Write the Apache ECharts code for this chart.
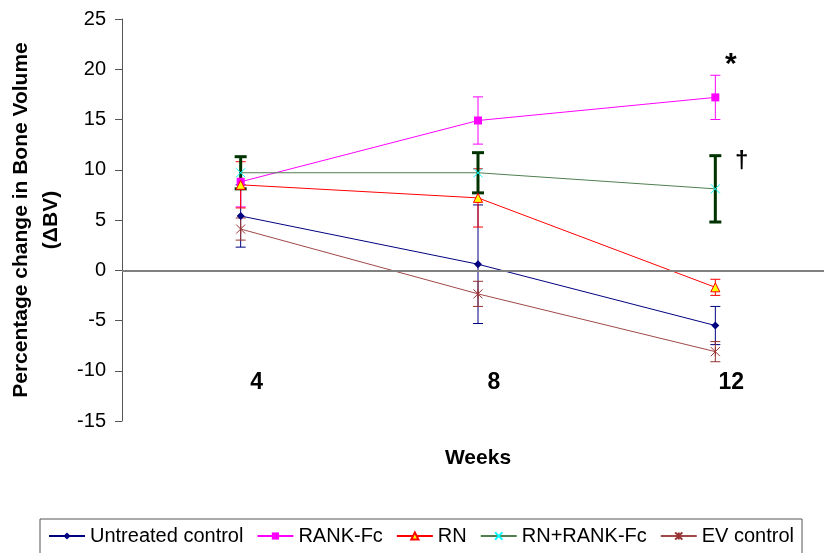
<!DOCTYPE html>
<html>
<head>
<meta charset="utf-8">
<script src="https://cdn.jsdelivr.net/npm/echarts@6/dist/echarts.min.js"></script>
<style>
  html, body { margin: 0; padding: 0; background: #fff; }
  #chart { width: 824px; height: 553px; }
</style>
</head>
<body>
<div id="chart"></div>
<script>
var weeks = ['4', '8', '12'];
var yTicks = { min: -15, max: 25, step: 5 };

var untreated    = [5.4, 0.6, -5.5];
var untreatedErr = [3.1, 5.9, 1.9];
var rankFc       = [8.8, 14.9, 17.2];
var rankFcErr    = [2.5, 2.35, 2.2];
var rn           = [8.5, 7.2, -1.7];
var rnErr        = [2.3, 2.9, 0.8];
var rnRankFc     = [9.7, 9.7, 8.1];
var rnRankFcErr  = [1.6, 2.0, 3.3];
var evControl    = [4.1, -2.35, -8.1];
var evControlErr = [1.1, 1.25, 1.0];

var FONT = "'Liberation Sans', Arial, sans-serif";

var dom = document.getElementById('chart');
var chart = echarts.init(dom);

// error bars: vertical line with caps
function errBars(name, means, errs, color, width, cap) {
    var data = means.map(function (m, i) { return [i, m - errs[i], m + errs[i]]; });
    return {
        name: name,
        type: 'custom',
        silent: true,
        z: 2,
        data: data,
        renderItem: function (params, api) {
            var i = api.value(0);
            var lo = api.coord([i, api.value(1)]);
            var hi = api.coord([i, api.value(2)]);
            var st = { stroke: color, lineWidth: width, fill: null };
            return {
                type: 'group',
                children: [
                    { type: 'line', shape: { x1: lo[0], y1: lo[1], x2: hi[0], y2: hi[1] }, style: st },
                    { type: 'line', shape: { x1: lo[0] - cap, y1: lo[1], x2: lo[0] + cap, y2: lo[1] }, style: st },
                    { type: 'line', shape: { x1: hi[0] - cap, y1: hi[1], x2: hi[0] + cap, y2: hi[1] }, style: st }
                ]
            };
        }
    };
}

function lineSeries(name, values, lineColor, symbol, size, itemStyle) {
    return {
        name: name,
        type: 'line',
        data: values,
        z: 3,
        symbol: symbol,
        symbolSize: size,
        showAllSymbol: true,
        lineStyle: { color: lineColor, width: 1 },
        itemStyle: itemStyle
    };
}

var xMark = 'path://M0,0L10,10M10,0L0,10';
var starMark = 'path://M0,0L10,10M10,0L0,10M5,0L5,10';

var series = [
    errBars('errUntreated', untreated, untreatedErr, '#000080', 1, 5),
    errBars('errRank', rankFc, rankFcErr, '#ff00ff', 1, 5),
    errBars('errRn', rn, rnErr, '#ff0000', 1, 5),
    errBars('errEv', evControl, evControlErr, '#993333', 1, 5),
    errBars('errRnRank', rnRankFc, rnRankFcErr, '#003300', 3, 6),
    lineSeries('Untreated control', untreated, '#000080', 'diamond', 8,
        { color: '#000080' }),
    lineSeries('RANK-Fc', rankFc, '#ff00ff', 'rect', 8,
        { color: '#ff00ff' }),
    lineSeries('RN', rn, '#ff0000', 'triangle', 9,
        { color: '#ffff00', borderColor: '#ff0000', borderWidth: 1 }),
    lineSeries('RN+RANK-Fc', rnRankFc, '#4f7f4f', xMark, 9,
        { color: '#00ffff', borderColor: '#00ffff', borderWidth: 1 }),
    lineSeries('EV control', evControl, '#a04848', starMark, 9,
        { color: '#993333', borderColor: '#993333', borderWidth: 1 })
];

// zero line across the plot
series[0].markLine = {
    silent: true,
    symbol: 'none',
    label: { show: false },
    lineStyle: { color: '#808080', width: 2, type: 'solid' },
    data: [{ yAxis: 0 }]
};

var option = {
    animation: false,
    textStyle: { fontFamily: FONT },
    grid: { left: 122, top: 19, bottom: 132, right: -10, containLabel: false, outerBoundsMode: 'none' },
    legend: {
        data: ['Untreated control', 'RANK-Fc', 'RN', 'RN+RANK-Fc', 'EV control'],
        left: 40,
        top: 519,
        padding: [7, 8, 20, 8],
        borderColor: '#555',
        borderWidth: 1,
        itemWidth: 36,
        itemHeight: 9,
        itemGap: 13,
        textStyle: { fontSize: 20, color: '#000', fontFamily: FONT }
    },
    xAxis: {
        type: 'category',
        data: weeks,
        boundaryGap: true,
        offset: -50,
        axisLine: { show: false, onZero: false },
        axisTick: { show: false },
        axisLabel: { margin: 0, fontSize: 23, fontWeight: 'bold', color: '#000', padding: [0, 0, 0, 32] },
        name: 'Weeks',
        nameLocation: 'middle',
        nameGap: 77,
        nameTextStyle: { fontSize: 21, fontWeight: 'bold', color: '#000' }
    },
    yAxis: {
        type: 'value',
        min: yTicks.min,
        max: yTicks.max,
        interval: yTicks.step,
        splitLine: { show: false },
        axisLine: { show: true, lineStyle: { color: '#555', width: 1 } },
        axisTick: { show: true, length: 7, lineStyle: { color: '#555' } },
        axisLabel: { margin: 16, fontSize: 20, color: '#000' },
        name: 'Percentage change in Bone Volume\n(ΔBV)',
        nameLocation: 'middle',
        nameGap: 52,
        nameTextStyle: { fontSize: 21, fontWeight: 'bold', color: '#000', lineHeight: 30, align: 'center' }
    },
    graphic: [
        { type: 'text', left: 725, top: 50, style: { text: '*', font: 'bold 30px ' + FONT, fill: '#000' } },
        { type: 'text', left: 735, top: 149, style: { text: '†', font: 'bold 24px ' + FONT, fill: '#000' } }
    ],
    series: series
};

chart.setOption(option, true);
</script>
</body>
</html>
